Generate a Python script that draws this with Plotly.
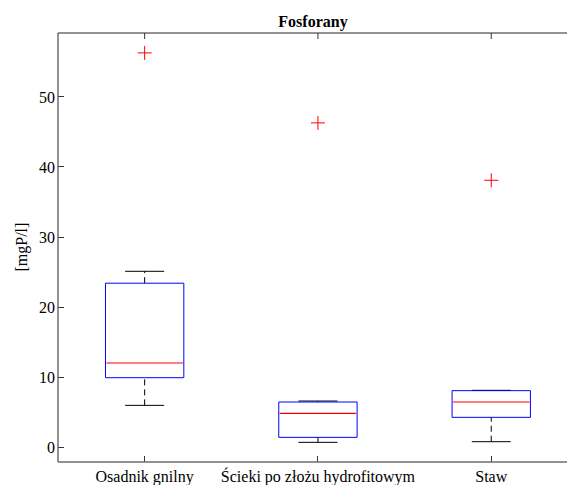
import plotly.graph_objects as go

categories = ["Osadnik gnilny", "Ścieki po złożu hydrofitowym", "Staw"]
positions = [1, 2, 3]
lower_whisker = [5.95, 0.67, 0.76]
q1 = [9.9, 1.38, 4.24]
median = [12.0, 4.81, 6.43]
q3 = [23.4, 6.43, 8.05]
upper_whisker = [25.1, 6.57, 8.1]
outliers = [56.3, 46.3, 38.1]
y_ticks = [0, 10, 20, 30, 40, 50]

BOX_HW = 0.226
CAP_HW = 0.1125

fig = go.Figure()
for i, p in enumerate(positions):
    fig.add_trace(go.Scatter(x=[p, p], y=[q3[i], upper_whisker[i]],
                             mode="lines", line=dict(color="black", width=1, dash="6px,4px"),
                             hoverinfo="skip", showlegend=False))
    fig.add_trace(go.Scatter(x=[p, p], y=[lower_whisker[i], q1[i]],
                             mode="lines", line=dict(color="black", width=1, dash="6px,4px"),
                             hoverinfo="skip", showlegend=False))
    fig.add_trace(go.Scatter(x=[p - CAP_HW, p + CAP_HW], y=[upper_whisker[i], upper_whisker[i]],
                             mode="lines", line=dict(color="black", width=1),
                             hoverinfo="skip", showlegend=False))
    fig.add_trace(go.Scatter(x=[p - CAP_HW, p + CAP_HW], y=[lower_whisker[i], lower_whisker[i]],
                             mode="lines", line=dict(color="black", width=1),
                             hoverinfo="skip", showlegend=False))
    fig.add_trace(go.Scatter(x=[p - BOX_HW, p + BOX_HW, p + BOX_HW, p - BOX_HW, p - BOX_HW],
                             y=[q1[i], q1[i], q3[i], q3[i], q1[i]],
                             mode="lines", line=dict(color="blue", width=1),
                             hoverinfo="skip", showlegend=False))
    fig.add_trace(go.Scatter(x=[p - BOX_HW + 0.005, p + BOX_HW - 0.005], y=[median[i], median[i]],
                             mode="lines", line=dict(color="red", width=1.2),
                             hoverinfo="skip", showlegend=False))

fig.add_trace(go.Scatter(x=positions, y=outliers, mode="markers",
                         marker=dict(symbol="cross-thin", size=10, color="red", line=dict(color="red", width=1)),
                         showlegend=False))

axis_font = dict(family="Liberation Serif", size=16, color="black")
frame_line = dict(color="#6e6e6e", width=1.5)

FIG_W = 590
PX_PER_UNIT = 173.3

fig.update_layout(
    template="none",
    width=FIG_W, height=485,
    margin=dict(l=58, r=0, t=33, b=23, autoexpand=False),
    paper_bgcolor="white", plot_bgcolor="white",
    title=dict(text="<b>Fosforany</b>", font=dict(family="Liberation Serif", size=16, color="black"),
               x=313 / FIG_W, xref="container", xanchor="center",
               y=1 - 21 / 485, yref="container", yanchor="middle"),
    xaxis=dict(range=[0.5, 0.5 + (FIG_W - 58) / PX_PER_UNIT], tickmode="array", tickvals=positions,
               ticktext=categories,
               ticks="inside", ticklen=6, tickcolor="#333", showline=False,
               mirror=False, showgrid=False, zeroline=False, tickfont=axis_font, automargin=False,
               ticklabelstandoff=3),
    yaxis=dict(range=[-2.14, 59.14], tickmode="array", tickvals=y_ticks,
               ticks="inside", ticklen=6, tickcolor="#333", showline=False,
               mirror=False, showgrid=False, zeroline=False, tickfont=axis_font, automargin=False,
               ticklabelstandoff=2),
    shapes=[
        dict(type="line", xref="paper", yref="paper", x0=0, x1=1, y0=0, y1=0, line=frame_line, layer="above"),
        dict(type="line", xref="paper", yref="paper", x0=0, x1=1, y0=1, y1=1, line=frame_line, layer="above"),
        dict(type="line", xref="paper", yref="paper", x0=0, x1=0, y0=0, y1=1, line=frame_line, layer="above"),
    ] + [
        dict(type="line", xref="x", yref="paper", x0=p, x1=p, y0=1, y1=1 - 6 / 429,
             line=dict(color="#333", width=1)) for p in positions
    ],
    annotations=[dict(text="[mgP/l]", textangle=-90, xref="paper", yref="paper",
                      x=(21 - 58) / (FIG_W - 58), y=0.5, xanchor="center", yanchor="middle",
                      showarrow=False, font=axis_font)],
)

fig.write_html("out.html", config={"displayModeBar": False, "staticPlot": True},
               post_script="document.body.style.margin='0px';document.body.style.overflow='hidden';")
